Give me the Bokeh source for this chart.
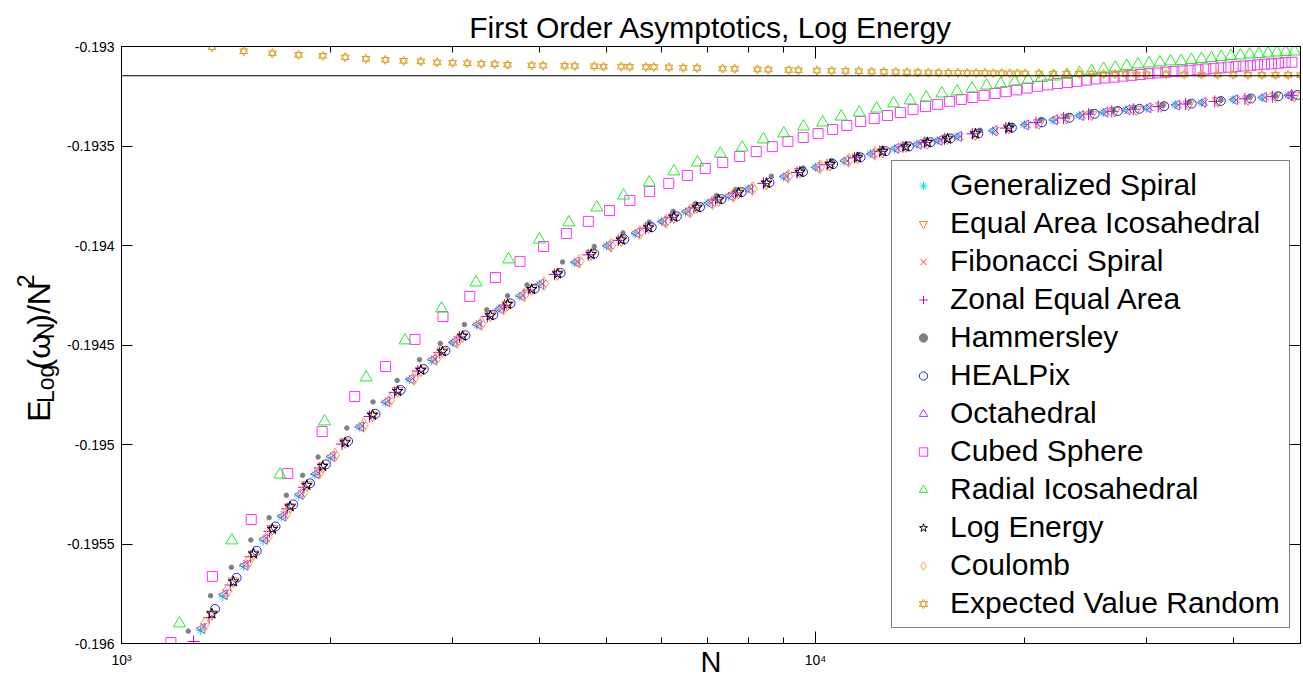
import math
from bokeh.plotting import figure
from bokeh.layouts import row
from bokeh.models import (Range1d, FixedTicker, LinearAxis, LogAxis, Label, Legend,
                          LegendItem, Span, ColumnDataSource, CustomJSTickFormatter)
from bokeh.embed import file_html
from bokeh.resources import INLINE

FONT = "Liberation Sans"
TICK_FONT = "Liberation Sans"

# ---- axis ticks ----
x_major = [1000, 10000]
x_minor = [2000, 3000, 4000, 5000, 6000, 7000, 8000, 9000, 20000, 30000, 40000, 50000]
y_ticks = [-0.196, -0.1955, -0.195, -0.1945, -0.194, -0.1935, -0.193]

# continuous log-energy constant (1/2 - ln 2)
asymptote = -0.193147

# ---- series: N values and E_log / N^2 ----
gen_spiral_N = [1300, 1400, 1500, 1600, 1700, 1800, 1900, 2000, 2200, 2400, 2600, 2800, 3000, 3250, 3500,
                3750, 4000, 4500, 5000, 5500, 6000, 6500, 7000, 7500, 8000, 9000, 10000, 11000, 12000,
                13000, 14000, 15000, 16000, 18000, 20000, 22000, 24000, 26000, 28000, 30000, 33000,
                36000, 40000, 44000, 48000]
gen_spiral_v = [-0.195934, -0.195765, -0.195612, -0.195485, -0.195364, -0.195259, -0.195151, -0.195067,
                -0.194913, -0.194790, -0.194674, -0.194578, -0.194488, -0.194401, -0.194319, -0.194257,
                -0.194194, -0.194087, -0.194001, -0.193941, -0.193879, -0.193832, -0.193785, -0.193753,
                -0.193715, -0.193656, -0.193606, -0.193577, -0.193538, -0.193515, -0.193490, -0.193474,
                -0.193451, -0.193425, -0.193392, -0.193371, -0.193346, -0.193332, -0.193317, -0.193310,
                -0.193292, -0.193283, -0.193266, -0.193258, -0.193244]

eq_ico_N = [1350, 1450, 1550, 1650, 1750, 1850, 1950, 2100, 2300, 2500, 2700, 2900, 3100, 3400, 3600,
            3900, 4250, 4750, 5250, 5750, 6250, 6750, 7250, 7750, 8500, 9500, 10500, 11500, 12500,
            13500, 14500, 15500, 17000, 19000, 21000, 23000, 25000, 27000, 29000, 31500, 34500,
            38000, 42000, 46000, 49000]
eq_ico_v = [-0.195852, -0.195687, -0.195551, -0.195423, -0.195314, -0.195203, -0.195111, -0.194988,
            -0.194854, -0.194730, -0.194628, -0.194531, -0.194457, -0.194350, -0.194297, -0.194218,
            -0.194143, -0.194042, -0.193973, -0.193908, -0.193858, -0.193807, -0.193771, -0.193732,
            -0.193688, -0.193629, -0.193594, -0.193556, -0.193529, -0.193501, -0.193484, -0.193461,
            -0.193440, -0.193407, -0.193384, -0.193357, -0.193341, -0.193323, -0.193316, -0.193299,
            -0.193290, -0.193273, -0.193264, -0.193249, -0.193246]

fib_N = [1313, 1414, 1515, 1616, 1717, 1818, 1919, 2021, 2223, 2425, 2627, 2829, 3031, 3283, 3535,
         3789, 4041, 4545, 5051, 5555, 6061, 6565, 7071, 7575, 8081, 9091, 10101, 11111, 12121,
         13131, 14141, 15151, 16161, 18181, 20201, 22221, 24241, 26261, 28281, 30301, 33331,
         36361, 40401, 44441, 48481]
fib_v = [-0.195913, -0.195745, -0.195597, -0.195470, -0.195353, -0.195246, -0.195142, -0.195056,
         -0.194906, -0.194781, -0.194669, -0.194570, -0.194484, -0.194394, -0.194316, -0.194250,
         -0.194192, -0.194081, -0.194000, -0.193936, -0.193879, -0.193828, -0.193785, -0.193749,
         -0.193715, -0.193652, -0.193606, -0.193574, -0.193539, -0.193512, -0.193491, -0.193471,
         -0.193452, -0.193422, -0.193393, -0.193368, -0.193347, -0.193329, -0.193318, -0.193307,
         -0.193294, -0.193281, -0.193268, -0.193256, -0.193246]

zonal_N = [1270, 1337, 1436, 1535, 1634, 1733, 1832, 1931, 2079, 2277, 2475, 2673, 2871, 3069, 3366,
           3564, 3861, 4208, 4703, 5198, 5693, 6188, 6683, 7178, 7673, 8415, 9405, 10395, 11385,
           12375, 13365, 14355, 15345, 16830, 18810, 20790, 22770, 24750, 26730, 28710, 31185,
           34155, 37620, 41580, 45540, 48510]
zonal_v = [-0.195990, -0.195870, -0.195706, -0.195564, -0.195437, -0.195323, -0.195215, -0.195118,
           -0.194998, -0.194859, -0.194738, -0.194631, -0.194538, -0.194460, -0.194357, -0.194300,
           -0.194224, -0.194145, -0.194047, -0.193974, -0.193913, -0.193858, -0.193811, -0.193771,
           -0.193736, -0.193688, -0.193633, -0.193594, -0.193559, -0.193528, -0.193504, -0.193483,
           -0.193464, -0.193439, -0.193410, -0.193383, -0.193360, -0.193340, -0.193326, -0.193315,
           -0.193302, -0.193289, -0.193276, -0.193263, -0.193252, -0.193245]

hammersley_N = [1248, 1344, 1440, 1536, 1632, 1728, 1824, 1920, 2112, 2304, 2496, 2688, 2880, 3120,
                3360, 3600, 3840, 4320, 4800, 5280, 5760, 6240, 6720, 7200, 7680, 8640, 9600, 10560,
                11520, 12480, 13440, 14400, 15360, 17280, 19200, 21120, 23040, 24960, 26880, 28800,
                31680, 34560, 38400, 42240, 46080]
hammersley_v = [-0.195938, -0.195760, -0.195617, -0.195480, -0.195368, -0.195255, -0.195155, -0.195063,
                -0.194917, -0.194786, -0.194678, -0.194574, -0.194492, -0.194397, -0.194323, -0.194253,
                -0.194198, -0.194083, -0.194005, -0.193937, -0.193883, -0.193828, -0.193789, -0.193749,
                -0.193719, -0.193652, -0.193610, -0.193573, -0.193542, -0.193511, -0.193494, -0.193470,
                -0.193455, -0.193421, -0.193396, -0.193367, -0.193350, -0.193328, -0.193321, -0.193306,
                -0.193296, -0.193279, -0.193270, -0.193254, -0.193248]

healpix_N = [1364, 1465, 1566, 1667, 1768, 1869, 1970, 2121, 2323, 2525, 2727, 2929, 3131, 3434, 3636,
             3939, 4293, 4798, 5303, 5808, 6313, 6818, 7323, 7828, 8585, 9595, 10605, 11615, 12625,
             13635, 14645, 15655, 17170, 19190, 21210, 23230, 25250, 27270, 29290, 31815, 34845,
             38380, 42420, 46460, 49490]
healpix_v = [-0.195827, -0.195670, -0.195534, -0.195412, -0.195301, -0.195195, -0.195100, -0.194983,
             -0.194846, -0.194726, -0.194621, -0.194529, -0.194451, -0.194348, -0.194291, -0.194217,
             -0.194138, -0.194041, -0.193969, -0.193908, -0.193854, -0.193807, -0.193767, -0.193732,
             -0.193684, -0.193630, -0.193591, -0.193557, -0.193526, -0.193502, -0.193481, -0.193462,
             -0.193437, -0.193408, -0.193381, -0.193358, -0.193338, -0.193324, -0.193313, -0.193300,
             -0.193287, -0.193274, -0.193261, -0.193250, -0.193243]

octa_N = [1306, 1407, 1507, 1608, 1708, 1809, 1909, 2010, 2211, 2412, 2613, 2814, 3015, 3266, 3517,
          3768, 4020, 4522, 5025, 5527, 6030, 6532, 7035, 7537, 8040, 9045, 10050, 11055, 12060,
          13065, 14070, 15075, 16080, 18090, 20100, 22110, 24120, 26130, 28140, 30150, 33165,
          36180, 40200, 44220, 48240]
octa_v = [-0.195924, -0.195754, -0.195607, -0.195476, -0.195360, -0.195251, -0.195148, -0.195060,
          -0.194911, -0.194785, -0.194672, -0.194573, -0.194487, -0.194397, -0.194318, -0.194253,
          -0.194194, -0.194083, -0.194002, -0.193937, -0.193880, -0.193829, -0.193786, -0.193750,
          -0.193716, -0.193653, -0.193607, -0.193574, -0.193540, -0.193512, -0.193491, -0.193472,
          -0.193452, -0.193423, -0.193394, -0.193368, -0.193347, -0.193330, -0.193318, -0.193308,
          -0.193294, -0.193281, -0.193267, -0.193256, -0.193246]

cubed_N = [1178, 1352, 1538, 1736, 1946, 2168, 2402, 2648, 2906, 3176, 3458, 3752, 4058, 4376, 4706,
           5048, 5402, 5768, 6146, 6536, 6938, 7352, 7778, 8216, 8666, 9128, 9602, 10088, 10586,
           11096, 11618, 12152, 12698, 13256, 13826, 14408, 15002, 15608, 16226, 16856, 17498,
           18152, 18818, 19496, 20186, 20888, 21602, 22328, 23066, 23816, 24578, 25352, 26138,
           26936, 27746, 28568, 29402, 30248, 31106, 31976, 32858, 33752, 34658, 35576, 36506,
           37448, 38402, 39368, 40346, 41336, 42338, 43352, 44378, 45416, 46466, 47528, 48602]
cubed_v = [-0.195995, -0.195663, -0.195377, -0.195146, -0.194935, -0.194759, -0.194608, -0.194472,
           -0.194357, -0.194256, -0.194161, -0.194080, -0.194005, -0.193940, -0.193879, -0.193824,
           -0.193774, -0.193729, -0.193688, -0.193648, -0.193613, -0.193583, -0.193553, -0.193528,
           -0.193503, -0.193477, -0.193457, -0.193437, -0.193417, -0.193397, -0.193377, -0.193362,
           -0.193347, -0.193332, -0.193317, -0.193302, -0.193291, -0.193276, -0.193266, -0.193256,
           -0.193246, -0.193236, -0.193227, -0.193218, -0.193209, -0.193200, -0.193193, -0.193186,
           -0.193181, -0.193175, -0.193169, -0.193163, -0.193158, -0.193154, -0.193149, -0.193145,
           -0.193141, -0.193136, -0.193133, -0.193129, -0.193126, -0.193123, -0.193120, -0.193117,
           -0.193113, -0.193110, -0.193107, -0.193104, -0.193101, -0.193098, -0.193096, -0.193092,
           -0.193089, -0.193087, -0.193084, -0.193081, -0.193079]

radial_N = [1212, 1442, 1692, 1962, 2252, 2562, 2892, 3242, 3612, 4002, 4412, 4842, 5292, 5762, 6252,
            6762, 7292, 7842, 8412, 9002, 9612, 10242, 10892, 11562, 12252, 12962, 13692, 14442,
            15212, 16002, 16812, 17642, 18492, 19362, 20252, 21162, 22092, 23042, 24012, 25002,
            26012, 27042, 28092, 29162, 30252, 31362, 32492, 33642, 34812, 36002, 37212, 38442,
            39692, 40962, 42252, 43562, 44892, 46242, 47612, 49002]
radial_v = [-0.195899, -0.195482, -0.195151, -0.194884, -0.194663, -0.194477, -0.194317, -0.194186,
            -0.194070, -0.193970, -0.193884, -0.193809, -0.193749, -0.193683, -0.193628, -0.193583,
            -0.193538, -0.193508, -0.193467, -0.193437, -0.193402, -0.193382, -0.193352, -0.193332,
            -0.193312, -0.193286, -0.193271, -0.193256, -0.193236, -0.193226, -0.193211, -0.193196,
            -0.193188, -0.193178, -0.193168, -0.193158, -0.193151, -0.193143, -0.193133, -0.193123,
            -0.193113, -0.193106, -0.193098, -0.193090, -0.193085, -0.193080, -0.193075, -0.193073,
            -0.193068, -0.193063, -0.193058, -0.193053, -0.193048, -0.193045, -0.193040, -0.193038,
            -0.193035, -0.193030, -0.193028, -0.193025]

log_energy_N = [1350, 1450, 1550, 1650, 1750, 1850, 1950, 2100, 2300, 2500, 2700, 2900, 3100, 3400,
                3600, 3900, 4250, 4750, 5250, 5750, 6250, 6750, 7250, 7750, 8500, 9500, 10500, 11500,
                12500, 13500, 14500, 15500, 17000, 19000]
log_energy_v = [-0.195850, -0.195689, -0.195549, -0.195425, -0.195312, -0.195205, -0.195109, -0.194990,
                -0.194852, -0.194732, -0.194626, -0.194533, -0.194455, -0.194352, -0.194295, -0.194220,
                -0.194141, -0.194044, -0.193971, -0.193910, -0.193856, -0.193809, -0.193769, -0.193734,
                -0.193686, -0.193631, -0.193592, -0.193558, -0.193527, -0.193503, -0.193482, -0.193463,
                -0.193438, -0.193409]

coulomb_N = [1320, 1421, 1523, 1624, 1726, 1827, 1929, 2030, 2233, 2436, 2639, 2842, 3045, 3299, 3553,
             3806, 4060, 4568, 5075, 5583, 6090, 6598, 7105, 7613, 8120, 9135, 10150, 11165, 12180]
coulomb_v = [-0.195902, -0.195735, -0.195592, -0.195463, -0.195348, -0.195241, -0.195138, -0.195053,
             -0.194903, -0.194778, -0.194667, -0.194568, -0.194483, -0.194392, -0.194315, -0.194248,
             -0.194191, -0.194080, -0.193999, -0.193935, -0.193878, -0.193827, -0.193784, -0.193748,
             -0.193714, -0.193652, -0.193605, -0.193572, -0.193537]

random_N = [1350, 1500, 1650, 1800, 1950, 2100, 2250, 2400, 2550, 2700, 2850, 3000, 3150, 3300, 3450,
            3600, 3900, 4050, 4350, 4500, 4800, 4950, 5250, 5400, 5700, 5850, 6150, 6450, 6750,
            7350, 7650, 8250, 8550, 9150, 9450, 10050, 10550, 11050, 11550, 12050, 12550, 13050,
            13550, 14050, 14550, 15050, 15550, 16050, 16550, 17050, 17550, 18050, 18550, 19050,
            19550, 20050, 21000, 22000, 23000, 24000, 25000, 26000, 27000, 28000, 29000, 30000,
            32000, 34000, 36000, 38000, 40000, 42000, 44000, 46000, 48000, 50000]
random_v = [-0.193004, -0.193024, -0.193034, -0.193042, -0.193047, -0.193054, -0.193062, -0.193067,
            -0.193072, -0.193075, -0.193080, -0.193082, -0.193084, -0.193087, -0.193089, -0.193092,
            -0.193095, -0.193096, -0.193097, -0.193098, -0.193099, -0.193101, -0.193101, -0.193102,
            -0.193103, -0.193103, -0.193105, -0.193107, -0.193108,
            -0.193111, -0.193112, -0.193115, -0.193116, -0.193118, -0.193119,
            -0.193121, -0.193122, -0.193123, -0.193124, -0.193126, -0.193127, -0.193128, -0.193129,
            -0.193130, -0.193131, -0.193131, -0.193132, -0.193132, -0.193133, -0.193133, -0.193133,
            -0.193134, -0.193134, -0.193135, -0.193135, -0.193136,
            -0.193136, -0.193137, -0.193137, -0.193138, -0.193138, -0.193139, -0.193139, -0.193139,
            -0.193140, -0.193140,
            -0.193140, -0.193141, -0.193141, -0.193142, -0.193142, -0.193142, -0.193143, -0.193143,
            -0.193143, -0.193144]

# ---- layout sizes ----
W, H = 1303, 680
LAB_W = 64            # strip holding the rotated y-axis label
FRAME_LEFT = 120      # left edge of the plotting frame on the page
FRAME_TOP, FRAME_BOTTOM = 46, 643

# ---- main figure ----
p = figure(width=W - LAB_W, height=H, x_axis_type="log",
           x_range=Range1d(1000, 50000), y_range=Range1d(-0.196, -0.193),
           output_backend="svg", toolbar_location=None,
           min_border_left=FRAME_LEFT - LAB_W, min_border_right=3, min_border_top=FRAME_TOP,
           min_border_bottom=H - FRAME_BOTTOM, background_fill_color="white",
           border_fill_color="white")
p.grid.visible = False
p.outline_line_color = "black"
p.outline_line_width = 1

p.title.text = "First Order Asymptotics, Log Energy"
p.title.text_font = FONT
p.title.text_font_size = "30px"
p.title.text_font_style = "normal"
p.title.text_color = "black"
p.title.align = "center"
p.title.standoff = 6

xticker = FixedTicker(ticks=x_major, minor_ticks=x_minor)
yticker = FixedTicker(ticks=y_ticks)

x_fmt = CustomJSTickFormatter(code="""
    if (tick == 1000) return '10\u00b3';
    if (tick == 10000) return '10\u2074';
    return '';
""")
y_fmt = CustomJSTickFormatter(code="return tick.toString();")
blank = CustomJSTickFormatter(code="return '';")


def style_axis(ax, tick_in, minor_in, labels=True):
    ax.axis_line_color = "black"
    ax.major_tick_line_color = "black"
    ax.minor_tick_line_color = "black"
    ax.major_tick_in = tick_in
    ax.major_tick_out = 0
    ax.minor_tick_in = minor_in
    ax.minor_tick_out = 0
    ax.major_label_text_font = TICK_FONT
    ax.major_label_text_color = "black"
    if not labels:
        ax.major_label_text_font_size = "0px"
        ax.major_label_standoff = 0


xb = p.xaxis[0]
xb.ticker = xticker
xb.formatter = x_fmt
style_axis(xb, 12, 6)
xb.major_label_text_font_size = "14px"
xb.major_label_standoff = 8
xb.axis_label = "N"
xb.axis_label_text_font = FONT
xb.axis_label_text_font_size = "29px"
xb.axis_label_text_font_style = "normal"
xb.axis_label_text_color = "black"
xb.axis_label_standoff = -25

yl = p.yaxis[0]
yl.ticker = yticker
yl.formatter = y_fmt
style_axis(yl, 11, 0)
yl.major_label_text_font_size = "14px"
yl.major_label_standoff = 7

top_ax = LogAxis(ticker=xticker, formatter=blank)
style_axis(top_ax, 12, 6, labels=False)
p.add_layout(top_ax, "above")

right_ax = LinearAxis(ticker=yticker, formatter=blank)
style_axis(right_ax, 11, 0, labels=False)
p.add_layout(right_ax, "right")

p.add_layout(Span(location=asymptote, dimension="width", line_color="black", line_width=1.2))


def add_series(N, v, **kw):
    src = ColumnDataSource(data=dict(N=N, v=v))
    return p.scatter("N", "v", source=src, line_width=1, **kw)


r_gen = add_series(gen_spiral_N, gen_spiral_v, marker="asterisk", size=9, line_color="#00e0ee")
r_ico = add_series(eq_ico_N, eq_ico_v, marker="inverted_triangle", size=11, line_color="#f7801e",
                   fill_color=None)
r_fib = add_series(fib_N, fib_v, marker="x", size=10, line_color="#ff3030")
r_zon = add_series(zonal_N, zonal_v, marker="cross", size=12, line_color="#c400c4")
r_ham = add_series(hammersley_N, hammersley_v, marker="circle", size=4.5, line_color="#808080",
                   fill_color="#808080")
r_hpx = add_series(healpix_N, healpix_v, marker="circle", size=9, line_color="#2020ff", fill_color=None)
r_oct = add_series(octa_N, octa_v, marker="triangle", angle=math.pi / 2, size=10, line_color="#a040ff",
                   fill_color=None)
r_cub = add_series(cubed_N, cubed_v, marker="square", size=10, line_color="#ff33ff", fill_color=None)
r_rad = add_series(radial_N, radial_v, marker="triangle", size=12, line_color="#22ee22", fill_color=None)
r_log = add_series(log_energy_N, log_energy_v, marker="star", size=11, line_color="black", fill_color=None)
r_cou = add_series(coulomb_N, coulomb_v, marker="diamond", size=14, line_color="#ffa040", fill_color=None)
r_rnd1 = add_series(random_N, random_v, marker="triangle", size=8, line_color="#e0a020", fill_color=None)
r_rnd2 = add_series(random_N, random_v, marker="inverted_triangle", size=8, line_color="#e0a020",
                    fill_color=None)

legend = Legend(items=[
    LegendItem(label="Generalized Spiral", renderers=[r_gen]),
    LegendItem(label="Equal Area Icosahedral", renderers=[r_ico]),
    LegendItem(label="Fibonacci Spiral", renderers=[r_fib]),
    LegendItem(label="Zonal Equal Area", renderers=[r_zon]),
    LegendItem(label="Hammersley", renderers=[r_ham]),
    LegendItem(label="HEALPix", renderers=[r_hpx]),
    LegendItem(label="Octahedral", renderers=[r_oct]),
    LegendItem(label="Cubed Sphere", renderers=[r_cub]),
    LegendItem(label="Radial Icosahedral", renderers=[r_rad]),
    LegendItem(label="Log Energy", renderers=[r_log]),
    LegendItem(label="Coulomb", renderers=[r_cou]),
    LegendItem(label="Expected Value Random", renderers=[r_rnd1, r_rnd2]),
], location=(770, 15))
legend.label_text_font = FONT
legend.label_text_font_size = "30px"
legend.label_text_color = "black"
legend.glyph_width = 48
legend.glyph_height = 21
legend.label_height = 34
legend.spacing = 4
legend.padding = 7
legend.margin = 0
legend.label_standoff = 3
legend.label_width = 332
legend.border_line_color = "black"
legend.border_line_width = 1
legend.background_fill_color = "white"
legend.background_fill_alpha = 1
p.add_layout(legend)

# ---- strip with the rotated y-axis label (pixel coordinates, y up) ----
lab = figure(width=LAB_W, height=H, x_range=Range1d(0, LAB_W), y_range=Range1d(0, H),
             x_axis_type=None, y_axis_type=None, output_backend="svg", toolbar_location=None,
             min_border=0, outline_line_color=None, background_fill_color="white",
             border_fill_color="white")
lab.grid.visible = False

base, small = 32, 23
ylabel_parts = [  # text, font size, advance width, baseline shift (+ = subscript)
    ("E", base, 0.667 * base, 0),
    ("Log", small, 3 * 0.556 * small, 7),
    ("(\u03c9", base, (0.333 + 0.74) * base, 0),
    ("N", small, 0.722 * small, 7),
    (")/N", base, (0.333 + 0.278 + 0.722) * base, 0),
    ("2", small, 0.556 * small, -13),
]
total = sum(w for _, _, w, _ in ylabel_parts)
frame_mid = H - (FRAME_TOP + FRAME_BOTTOM) / 2
along = frame_mid - total / 2
baseline_x = 38
for txt, size, w, shift in ylabel_parts:
    lab.add_layout(Label(x=baseline_x + shift, y=along, text=txt, angle=math.pi / 2,
                         text_font=FONT, text_font_size=f"{size}px", text_align="left",
                         text_baseline="alphabetic", text_color="black"))
    along += w

layout = row(lab, p, spacing=0)
open("out.html", "w").write(file_html(layout, INLINE))
